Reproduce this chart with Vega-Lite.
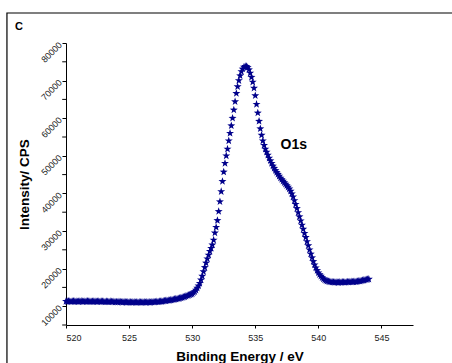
{
  "$schema": "https://vega.github.io/schema/vega-lite/v6.json",
  "width": 347,
  "height": 282,
  "autosize": {"type": "none"},
  "padding": {"left": 66, "top": 43, "right": 39, "bottom": 38},
  "background": "white",
  "config": {"view": {"stroke": null}},
  "title": {"text": "C", "anchor": "start", "frame": "group", "dx": -51, "dy": 34, "offset": 14, "fontSize": 11, "fontWeight": "bold", "font": "Liberation Sans", "color": "black"},
  "data": {"values": [
    {"e":520.0,"c":11300},{"e":520.1,"c":11250},{"e":520.2,"c":11350},{"e":520.3,"c":11300},{"e":520.4,"c":11200},{"e":520.5,"c":11300},{"e":520.6,"c":11350},{"e":520.7,"c":11250},{"e":520.8,"c":11300},{"e":520.9,"c":11200},
    {"e":521.0,"c":11250},{"e":521.1,"c":11300},{"e":521.2,"c":11350},{"e":521.3,"c":11250},{"e":521.4,"c":11200},{"e":521.5,"c":11300},{"e":521.6,"c":11250},{"e":521.7,"c":11350},{"e":521.8,"c":11300},{"e":521.9,"c":11250},
    {"e":522.0,"c":11200},{"e":522.1,"c":11300},{"e":522.2,"c":11250},{"e":522.3,"c":11300},{"e":522.4,"c":11200},{"e":522.5,"c":11250},{"e":522.6,"c":11300},{"e":522.7,"c":11200},{"e":522.8,"c":11250},{"e":522.9,"c":11300},
    {"e":523.0,"c":11200},{"e":523.1,"c":11150},{"e":523.2,"c":11250},{"e":523.3,"c":11200},{"e":523.4,"c":11150},{"e":523.5,"c":11250},{"e":523.6,"c":11200},{"e":523.7,"c":11150},{"e":523.8,"c":11200},{"e":523.9,"c":11100},
    {"e":524.0,"c":11150},{"e":524.1,"c":11100},{"e":524.2,"c":11200},{"e":524.3,"c":11150},{"e":524.4,"c":11100},{"e":524.5,"c":11050},{"e":524.6,"c":11150},{"e":524.7,"c":11100},{"e":524.8,"c":11050},{"e":524.9,"c":11100},
    {"e":525.0,"c":11050},{"e":525.1,"c":11100},{"e":525.2,"c":11000},{"e":525.3,"c":11050},{"e":525.4,"c":11100},{"e":525.5,"c":11000},{"e":525.6,"c":11050},{"e":525.7,"c":11000},{"e":525.8,"c":11100},{"e":525.9,"c":11050},
    {"e":526.0,"c":11000},{"e":526.1,"c":11050},{"e":526.2,"c":11100},{"e":526.3,"c":11000},{"e":526.4,"c":11050},{"e":526.5,"c":11100},{"e":526.6,"c":11050},{"e":526.7,"c":11000},{"e":526.8,"c":11100},{"e":526.9,"c":11150},
    {"e":527.0,"c":11100},{"e":527.1,"c":11150},{"e":527.2,"c":11200},{"e":527.3,"c":11150},{"e":527.4,"c":11250},{"e":527.5,"c":11300},{"e":527.6,"c":11250},{"e":527.7,"c":11350},{"e":527.8,"c":11400},{"e":527.9,"c":11450},
    {"e":528.0,"c":11500},{"e":528.1,"c":11550},{"e":528.2,"c":11550},{"e":528.3,"c":11650},{"e":528.4,"c":11700},{"e":528.5,"c":11750},{"e":528.6,"c":11850},{"e":528.7,"c":11900},{"e":528.8,"c":11950},{"e":528.9,"c":12000},
    {"e":529.0,"c":12100},{"e":529.1,"c":12200},{"e":529.2,"c":12300},{"e":529.3,"c":12400},{"e":529.4,"c":12500},{"e":529.5,"c":12650},{"e":529.6,"c":12800},{"e":529.7,"c":12900},{"e":529.8,"c":13000},{"e":529.9,"c":13150},
    {"e":530.0,"c":13300},{"e":530.1,"c":13600},{"e":530.2,"c":13900},{"e":530.3,"c":14300},{"e":530.4,"c":14800},{"e":530.5,"c":15400},{"e":530.6,"c":16100},{"e":530.7,"c":17000},{"e":530.8,"c":18000},{"e":530.9,"c":19200},
    {"e":531.0,"c":20300},{"e":531.1,"c":21500},{"e":531.2,"c":22600},{"e":531.3,"c":23600},{"e":531.4,"c":24600},{"e":531.5,"c":25400},{"e":531.6,"c":26300},{"e":531.7,"c":27600},{"e":531.8,"c":29500},{"e":531.9,"c":31000},
    {"e":532.0,"c":32800},{"e":532.1,"c":35200},{"e":532.2,"c":37800},{"e":532.3,"c":40500},{"e":532.4,"c":43200},{"e":532.5,"c":45700},{"e":532.6,"c":48000},{"e":532.7,"c":50000},{"e":532.8,"c":51800},{"e":532.9,"c":54000},
    {"e":533.0,"c":56000},{"e":533.1,"c":58000},{"e":533.2,"c":60000},{"e":533.3,"c":62200},{"e":533.4,"c":64400},{"e":533.5,"c":66600},{"e":533.6,"c":68400},{"e":533.7,"c":70000},{"e":533.8,"c":71300},{"e":533.9,"c":72400},
    {"e":534.0,"c":73100},{"e":534.1,"c":73600},{"e":534.2,"c":73800},{"e":534.3,"c":73800},{"e":534.4,"c":73500},{"e":534.5,"c":72900},{"e":534.6,"c":72000},{"e":534.7,"c":70900},{"e":534.8,"c":69600},{"e":534.9,"c":68000},
    {"e":535.0,"c":66000},{"e":535.1,"c":63700},{"e":535.2,"c":61400},{"e":535.3,"c":59200},{"e":535.4,"c":57200},{"e":535.5,"c":55500},{"e":535.6,"c":54000},{"e":535.7,"c":52800},{"e":535.8,"c":51800},{"e":535.9,"c":51000},
    {"e":536.0,"c":50200},{"e":536.1,"c":49400},{"e":536.2,"c":48700},{"e":536.3,"c":48000},{"e":536.4,"c":47300},{"e":536.5,"c":46700},{"e":536.6,"c":46100},{"e":536.7,"c":45600},{"e":536.8,"c":45100},{"e":536.9,"c":44600},
    {"e":537.0,"c":44100},{"e":537.1,"c":43700},{"e":537.2,"c":43300},{"e":537.3,"c":42900},{"e":537.4,"c":42500},{"e":537.5,"c":42100},{"e":537.6,"c":41700},{"e":537.7,"c":41200},{"e":537.8,"c":40600},{"e":537.9,"c":39900},
    {"e":538.0,"c":39100},{"e":538.1,"c":38100},{"e":538.2,"c":37100},{"e":538.3,"c":36000},{"e":538.4,"c":34900},{"e":538.5,"c":33800},{"e":538.6,"c":32700},{"e":538.7,"c":31600},{"e":538.8,"c":30500},{"e":538.9,"c":29400},
    {"e":539.0,"c":28300},{"e":539.1,"c":27200},{"e":539.2,"c":26100},{"e":539.3,"c":25000},{"e":539.4,"c":23900},{"e":539.5,"c":22900},{"e":539.6,"c":21900},{"e":539.7,"c":21000},{"e":539.8,"c":20200},{"e":539.9,"c":19500},
    {"e":540.0,"c":18900},{"e":540.1,"c":18400},{"e":540.2,"c":18000},{"e":540.3,"c":17600},{"e":540.4,"c":17300},{"e":540.5,"c":17000},{"e":540.6,"c":16800},{"e":540.7,"c":16700},{"e":540.8,"c":16600},{"e":540.9,"c":16500},
    {"e":541.0,"c":16450},{"e":541.1,"c":16400},{"e":541.2,"c":16400},{"e":541.3,"c":16350},{"e":541.4,"c":16400},{"e":541.5,"c":16350},{"e":541.6,"c":16300},{"e":541.7,"c":16400},{"e":541.8,"c":16350},{"e":541.9,"c":16400},
    {"e":542.0,"c":16400},{"e":542.1,"c":16350},{"e":542.2,"c":16400},{"e":542.3,"c":16450},{"e":542.4,"c":16400},{"e":542.5,"c":16450},{"e":542.6,"c":16500},{"e":542.7,"c":16450},{"e":542.8,"c":16500},{"e":542.9,"c":16550},
    {"e":543.0,"c":16500},{"e":543.1,"c":16600},{"e":543.2,"c":16650},{"e":543.3,"c":16700},{"e":543.4,"c":16750},{"e":543.5,"c":16850},{"e":543.6,"c":16900},{"e":543.7,"c":17000},{"e":543.8,"c":17050},{"e":543.9,"c":17150},
    {"e":544.0,"c":17200}
  ]},
  "layer": [
    {
      "data": {"values": [{}]},
      "mark": {"type": "rect", "fill": null, "stroke": "black", "strokeWidth": 1.2, "clip": false},
      "encoding": {
        "x": {"datum": 515.32, "type": "quantitative"},
        "x2": {"datum": 560},
        "y": {"datum": 87980, "type": "quantitative"},
        "y2": {"datum": -20000}
      }
    },
    {
      "data": {"values": [{"m": 5000}, {"m": 15000}, {"m": 25000}, {"m": 35000}, {"m": 45000}, {"m": 55000}, {"m": 65000}, {"m": 75000}]},
      "mark": {"type": "rule", "color": "black", "strokeWidth": 1, "clip": false},
      "encoding": {
        "x": {"datum": 519.7, "type": "quantitative"},
        "x2": {"datum": 520},
        "y": {"field": "m", "type": "quantitative"}
      }
    },
    {
      "mark": {"type": "point", "shape": "M0,-1L0.235,-0.324L0.951,-0.309L0.38,0.124L0.588,0.809L0,0.4L-0.588,0.809L-0.38,0.124L-0.951,-0.309L-0.235,-0.324Z", "filled": true, "size": 70, "color": "#00008b", "opacity": 1},
      "encoding": {
        "x": {
          "field": "e", "type": "quantitative",
          "scale": {"domain": [520, 547.5], "nice": false, "zero": false},
          "axis": {
            "title": "Binding Energy / eV",
            "values": [520, 522.5, 525, 527.5, 530, 532.5, 535, 537.5, 540, 542.5, 545, 547.5],
            "labelExpr": "datum.value % 5 === 0 ? datum.label : ''",
            "labelOverlap": false,
            "format": "d",
            "grid": false,
            "tickSize": 3,
            "domainColor": "black", "tickColor": "black",
            "labelFont": "Liberation Sans", "labelFontSize": 9, "labelColor": "#222", "labelPadding": 5,
            "titleFont": "Liberation Sans", "titleFontSize": 13.5, "titleFontWeight": "bold", "titleColor": "black", "titlePadding": 7
          }
        },
        "y": {
          "field": "c", "type": "quantitative",
          "scale": {"domain": [5000, 80000], "nice": false, "zero": false},
          "axis": {
            "title": "Intensity/ CPS",
            "values": [10000, 20000, 30000, 40000, 50000, 60000, 70000, 80000],
            "labelOverlap": false,
            "format": "d",
            "grid": false,
            "tickSize": 4,
            "labelAngle": -45,
            "domainColor": "black", "tickColor": "black",
            "labelFont": "Liberation Sans", "labelFontSize": 9, "labelColor": "#222", "labelPadding": 2,
            "titleFont": "Liberation Sans", "titleFontSize": 13.5, "titleFontWeight": "bold", "titleColor": "black", "titlePadding": 8
          }
        }
      }
    },
    {
      "data": {"values": [{}]},
      "mark": {"type": "text", "text": "O1s", "font": "Liberation Sans", "fontSize": 14, "fontWeight": "bold", "color": "black", "align": "center", "baseline": "middle"},
      "encoding": {
        "x": {"datum": 538.05, "type": "quantitative"},
        "y": {"datum": 53000, "type": "quantitative"}
      }
    }
  ]
}
